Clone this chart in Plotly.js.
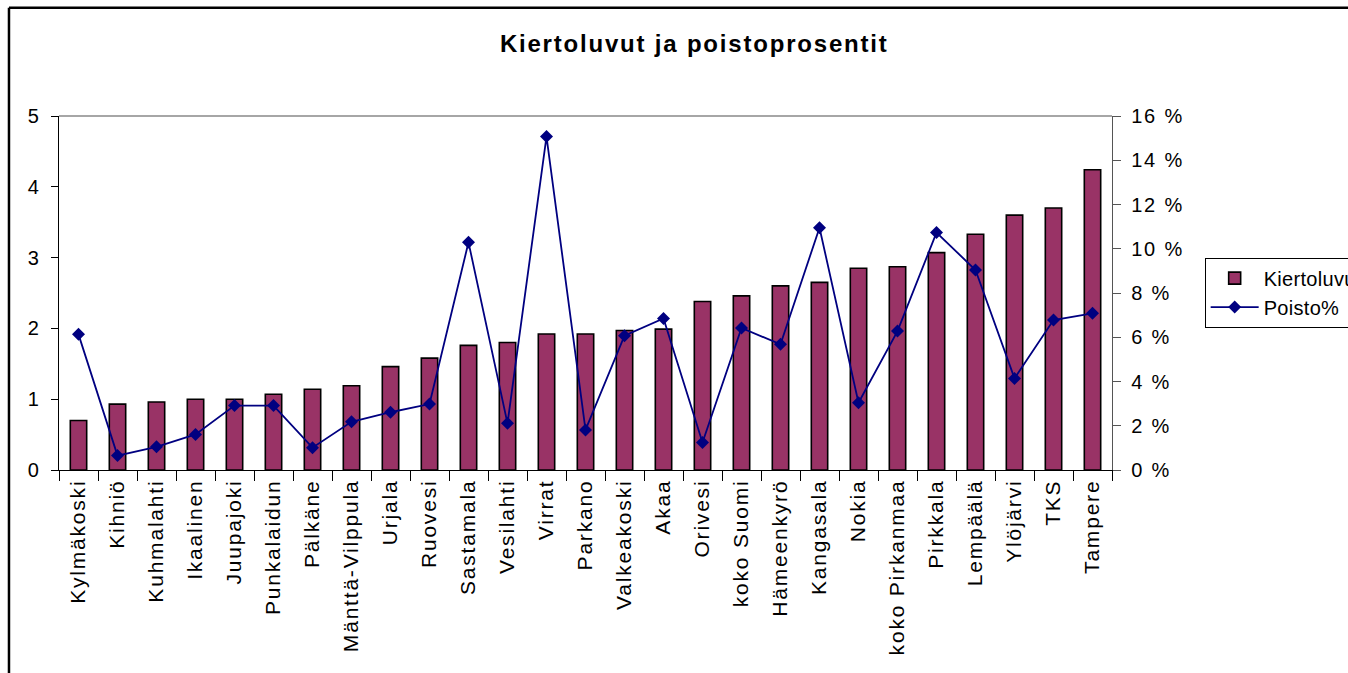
<!DOCTYPE html>
<html>
<head>
<meta charset="utf-8">
<script src="https://cdn.plot.ly/plotly-3.0.1.min.js"></script>
<style>
html, body { margin: 0; padding: 0; background: #fff; }
#chart { width: 1348px; height: 673px; }
svg text { letter-spacing: 1.8px; }
svg .legend text { letter-spacing: 0.3px; }
</style>
</head>
<body>
<div id="chart"></div>
<script>
const categories = ["Kylmäkoski","Kihniö","Kuhmalahti","Ikaalinen","Juupajoki","Punkalaidun","Pälkäne","Mänttä-Vilppula","Urjala","Ruovesi","Sastamala","Vesilahti","Virrat","Parkano","Valkeakoski","Akaa","Orivesi","koko Suomi","Hämeenkyrö","Kangasala","Nokia","koko Pirkanmaa","Pirkkala","Lempäälä","Ylöjärvi","TKS","Tampere"];
const kiertoluvut = [0.70,0.93,0.96,1.00,1.00,1.07,1.14,1.19,1.46,1.58,1.76,1.80,1.92,1.92,1.97,1.99,2.38,2.46,2.60,2.65,2.85,2.87,3.07,3.33,3.60,3.70,4.24];
const poistoPct = [6.13,0.65,1.05,1.61,2.91,2.91,1.01,2.18,2.61,2.98,10.29,2.11,15.07,1.81,6.07,6.85,1.24,6.42,5.68,10.95,3.04,6.28,10.73,9.04,4.14,6.78,7.08];
const leftTicks = [0,1,2,3,4,5];
const rightTicks = [0,2,4,6,8,10,12,14,16];
const rightTickText = rightTicks.map(v => v + " %");

const FONT = "Liberation Sans, Arial, sans-serif";

const traces = [
  {
    type: "bar",
    name: "Kiertoluvut",
    x: categories,
    y: kiertoluvut,
    marker: { color: "#993366", line: { color: "#000000", width: 1.6 } },
    yaxis: "y"
  },
  {
    type: "scatter",
    mode: "lines+markers",
    name: "Poisto%",
    x: categories,
    y: poistoPct,
    yaxis: "y2",
    line: { color: "#000080", width: 1.8 },
    marker: { symbol: "diamond", size: 10, color: "#000080" }
  }
];

const layout = {
  width: 1348,
  height: 673,
  paper_bgcolor: "#ffffff",
  plot_bgcolor: "#ffffff",
  margin: { l: 59, r: 236, t: 116, b: 203, autoexpand: false },
  font: { family: FONT, size: 20, color: "#000" },
  title: {
    text: "<b>Kiertoluvut ja poistoprosentit</b>",
    font: { family: FONT, size: 24, color: "#000" },
    xref: "container", yref: "container",
    x: 0.515, xanchor: "center",
    y: 0.935, yanchor: "middle"
  },
  bargap: 0.58,
  showlegend: true,
  legend: {
    x: 1.088, xanchor: "left",
    y: 0.6, yanchor: "top",
    bordercolor: "#000", borderwidth: 1,
    bgcolor: "#fff",
    font: { family: FONT, size: 20, color: "#000" },
    itemwidth: 48,
    tracegroupgap: 4
  },
  xaxis: {
    type: "category",
    range: [-0.5, categories.length - 0.5],
    autorange: false,
    tickson: "boundaries",
    ticks: "outside", ticklen: 10, tickcolor: "#000", tickwidth: 1,
    tickangle: -90,
    showline: true, linecolor: "#000", linewidth: 1.2,
    showgrid: false, zeroline: false,
    tickfont: { family: FONT, size: 21, color: "#000" },
    fixedrange: true
  },
  yaxis: {
    range: [0, 5],
    tickmode: "array",
    tickvals: leftTicks,
    ticks: "outside", ticklen: 7, tickcolor: "#000",
    showline: true, linecolor: "#000", linewidth: 1.2,
    showgrid: false, zeroline: false,
    ticklabelstandoff: 6,
    tickfont: { family: FONT, size: 20, color: "#000" }
  },
  yaxis2: {
    overlaying: "y",
    side: "right",
    range: [0, 16],
    tickmode: "array",
    tickvals: rightTicks,
    ticktext: rightTickText,
    ticks: "outside", ticklen: 8, tickcolor: "#555",
    showline: true, linecolor: "#555", linewidth: 1.2,
    showgrid: false, zeroline: false,
    ticklabelstandoff: 6,
    tickfont: { family: FONT, size: 20, color: "#000" }
  },
  shapes: [
    { type: "line", xref: "paper", yref: "paper", x0: 0, x1: 1, y0: 1, y1: 1,
      line: { color: "#888", width: 1.5 } },
    { type: "line", xref: "paper", yref: "paper", x0: -0.0475, x1: 1.3, y0: 1.306, y1: 1.306,
      line: { color: "#000", width: 2.5 } },
    { type: "line", xref: "paper", yref: "paper", x0: -0.0475, x1: -0.0475, y0: 1.306, y1: -0.6,
      line: { color: "#000", width: 2.5 } }
  ]
};

Plotly.newPlot("chart", traces, layout, { displayModeBar: false, staticPlot: true });
</script>
</body>
</html>
